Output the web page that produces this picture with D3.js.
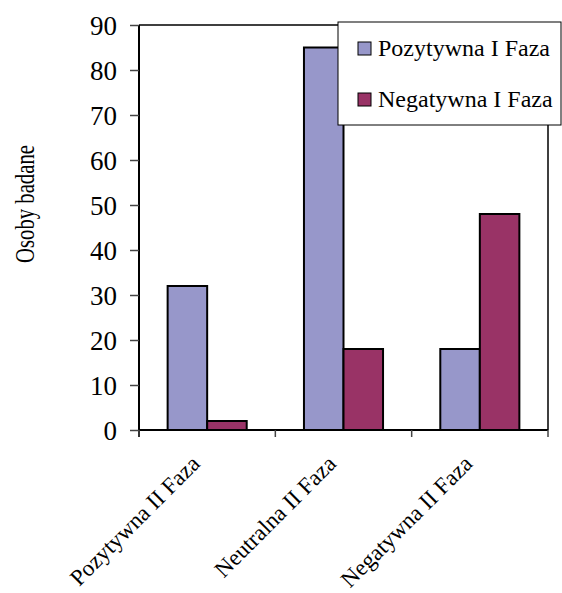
<!DOCTYPE html>
<html>
<head>
<meta charset="utf-8">
<script src="https://cdn.jsdelivr.net/npm/d3@7"></script>
<style>
  html, body { margin: 0; padding: 0; background: #fff; }
  svg { display: block; }
  text { font-family: "Liberation Serif", "Times New Roman", serif; fill: #000; }
</style>
</head>
<body>
<svg id="chart" width="562" height="593"></svg>
<script>
const categories = ["Pozytywna II Faza", "Neutralna II Faza", "Negatywna II Faza"];
const seriesNames = ["Pozytywna I Faza", "Negatywna I Faza"];
const pozytywnaI = [32, 85, 18];
const negatywnaI = [2, 18, 48];
const yTicks = [0, 10, 20, 30, 40, 50, 60, 70, 80, 90];
const colors = ["#9797CA", "#993366"];

(function () {
const seriesValues = [pozytywnaI, negatywnaI];
const svg = d3.select("#chart");

const pLeft = 139, pRight = 548, pTop = 25, pBottom = 430;

const x = d3.scaleBand().domain(categories).range([pLeft, pRight])
  .paddingInner(0.42).paddingOuter(0.21);
const x1 = d3.scaleBand().domain(seriesNames).range([0, x.bandwidth()]);
const y = d3.scaleLinear().domain([0, 90]).range([pBottom, pTop]);

// plot frame (top and right)
svg.append("path")
  .attr("d", `M${pLeft},${pTop}H${pRight}V${pBottom}`)
  .attr("fill", "none").attr("stroke", "#000").attr("stroke-width", 1.5);

// bars
const groups = svg.append("g").selectAll("g")
  .data(categories).join("g")
  .attr("transform", c => `translate(${x(c)},0)`);
groups.selectAll("rect")
  .data((c, i) => seriesNames.map((s, j) => ({ s, v: seriesValues[j][i], j })))
  .join("rect")
  .attr("x", d => x1(d.s))
  .attr("y", d => y(d.v))
  .attr("width", x1.bandwidth())
  .attr("height", d => y(0) - y(d.v))
  .attr("fill", d => colors[d.j])
  .attr("stroke", "#000").attr("stroke-width", 2);

// y axis
const yAxis = svg.append("g")
  .attr("transform", `translate(${pLeft},0)`)
  .call(d3.axisLeft(y).tickValues(yTicks).tickSize(9).tickPadding(13).tickFormat(d3.format("d")));
yAxis.select(".domain").attr("stroke", "#000").attr("stroke-width", 2)
  .attr("d", `M0,${pTop}V${pBottom + 7}`);
yAxis.selectAll(".tick line").attr("stroke", "#444").attr("stroke-width", 1.5);
yAxis.selectAll(".tick text")
  .attr("font-size", 27).attr("dy", "0.34em")
  .style("font-family", "'Liberation Serif', 'Times New Roman', serif");

// x axis (ticks at category boundaries)
const step = x.step();
const boundaries = [x(categories[0]) + x.bandwidth() / 2 - step / 2]
  .concat(categories.map(c => x(c) + x.bandwidth() / 2 + step / 2));
const xAxis = svg.append("g");
xAxis.append("line")
  .attr("x1", pLeft).attr("x2", pRight).attr("y1", pBottom).attr("y2", pBottom)
  .attr("stroke", "#000").attr("stroke-width", 2);
xAxis.selectAll("line.tk").data(boundaries).join("line").attr("class", "tk")
  .attr("x1", d => d).attr("x2", d => d)
  .attr("y1", pBottom).attr("y2", pBottom + 7)
  .attr("stroke", "#444").attr("stroke-width", 1.5);

xAxis.selectAll("text.cat").data(categories).join("text").attr("class", "cat")
  .attr("transform", c => `translate(${x(c) + x.bandwidth() / 2 - 6},${pBottom + 35}) rotate(-45)`)
  .attr("text-anchor", "end")
  .attr("font-size", 23)
  .text(c => c);

// y title
svg.append("text")
  .attr("transform", `translate(34,204) rotate(-90) scale(0.74,1)`)
  .attr("text-anchor", "middle")
  .attr("font-size", 28)
  .text("Osoby badane");

// legend
const legend = svg.append("g");
legend.append("rect")
  .attr("x", 338).attr("y", 22).attr("width", 223).attr("height", 103)
  .attr("fill", "#fff").attr("stroke", "#000").attr("stroke-width", 1);
const items = legend.selectAll("g.item").data(seriesNames).join("g").attr("class", "item")
  .attr("transform", (d, i) => `translate(358,${42 + i * 51})`);
items.append("rect")
  .attr("width", 13).attr("height", 13)
  .attr("fill", (d, i) => colors[i]).attr("stroke", "#000").attr("stroke-width", 1);
items.append("text")
  .attr("x", 20).attr("y", 14)
  .attr("font-size", 24)
  .text(d => d);
})();
</script>
</body>
</html>
